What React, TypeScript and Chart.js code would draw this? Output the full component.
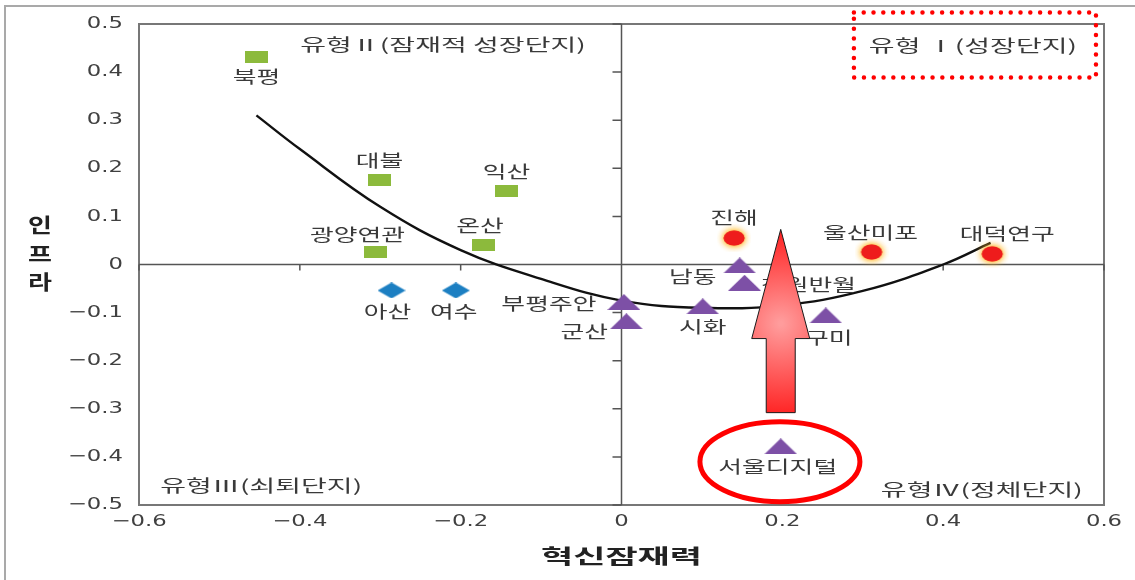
import React, { useEffect, useRef } from 'react';
import { Chart, registerables } from 'chart.js';

Chart.register(...registerables);

// ---- data ----
const growthNames = ['진해', '울산미포', '대덕연구'];
const growthX = [0.14, 0.311, 0.461];
const growthY = [0.055, 0.026, 0.022];

const potentialNames = ['북평', '대불', '익산', '온산', '광양연관'];
const potentialX = [-0.454, -0.301, -0.143, -0.171, -0.306];
const potentialY = [0.432, 0.175, 0.152, 0.04, 0.027];

const declineNames = ['아산', '여수'];
const declineX = [-0.286, -0.206];
const declineY = [-0.054, -0.054];

const stagnantNames = ['부평주안', '군산', '남동', '창원반월', '시화', '구미', '서울디지털'];
const stagnantX = [0.003, 0.006, 0.147, 0.153, 0.101, 0.254, 0.198];
const stagnantY = [-0.078, -0.118, -0.002, -0.038, -0.087, -0.106, -0.378];

const trendX = [-0.454, -0.4, -0.3, -0.2, -0.1, 0, 0.1, 0.2, 0.3, 0.4, 0.459];
const trendY = [0.31, 0.24, 0.12, 0.03, -0.03, -0.075, -0.09, -0.085, -0.055, 0.0, 0.045];

const xTickValues = [-0.6, -0.4, -0.2, 0, 0.2, 0.4, 0.6];
const yTickValues = [0.5, 0.4, 0.3, 0.2, 0.1, 0, -0.1, -0.2, -0.3, -0.4, -0.5];
const xTitle = '혁신잠재력';
const yTitle = ['인', '프', '라'];

const quadrantTexts = ['유형Ⅱ(잠재적 성장단지)', '유형 Ⅰ(성장단지)', '유형Ⅲ(쇠퇴단지)', '유형Ⅳ(정체단지)'];
const quadrantX = [-0.222, 0.437, -0.448, 0.448];
const quadrantY = [0.457, 0.455, -0.459, -0.468];

// ---- annotation placement (styles) ----
const labelOffsets: Record<string, [number, number]> = {
  '북평': [0, 20], '대불': [0, -20], '익산': [0, -20], '온산': [-4, -20], '광양연관': [-18, -17],
  '아산': [-4, 21], '여수': [-2, 21],
  '진해': [0, -20], '울산미포': [-1, -19], '대덕연구': [15, -20],
  '부평주안': [-75, 2], '군산': [-42, 10], '남동': [-47, 11], '창원반월': [64, 2],
  '시화': [0, 20], '구미': [3, 22], '서울디지털': [-3, 20],
};
const boxRange = { x0: 0.289, x1: 0.59, y0: 0.524, y1: 0.389 };
const arrowPos = { x: 0.198, tip: 0.073, head: -0.154, base: -0.308 };
const ellipsePos = { x: 0.197, y: -0.41 };

const KR = '"Noto Sans CJK KR", "Noto Sans", sans-serif';

function fmt(v: number) {
  if (Math.abs(v) < 1e-9) return '0';
  return (v < 0 ? '\u2212' : '') + Math.abs(v).toFixed(1);
}

function drawText(ctx: CanvasRenderingContext2D, text: string, x: number, y: number, font: string, color: string, sx: number, align: CanvasTextAlign = 'center') {
  ctx.save();
  ctx.font = font;
  ctx.fillStyle = color;
  ctx.textAlign = align;
  ctx.textBaseline = 'middle';
  ctx.translate(x, y);
  ctx.scale(sx, 1);
  ctx.fillText(text, 0, 0);
  ctx.restore();
}

function makeMarker(kind: string): HTMLCanvasElement {
  const c = document.createElement('canvas');
  const ctx = c.getContext('2d')!;
  if (kind === 'rect') {
    c.width = 23; c.height = 12;
    ctx.fillStyle = '#8cba3c';
    ctx.fillRect(0, 0, 23, 12);
  } else if (kind === 'diamond') {
    c.width = 28; c.height = 16;
    ctx.fillStyle = '#1c7fc2';
    ctx.beginPath();
    ctx.moveTo(14, 0); ctx.lineTo(28, 8); ctx.lineTo(14, 16); ctx.lineTo(0, 8);
    ctx.closePath(); ctx.fill();
  } else if (kind === 'circle') {
    c.width = 34; c.height = 28;
    ctx.shadowColor = 'rgba(255,185,40,0.95)';
    ctx.shadowBlur = 7;
    ctx.fillStyle = '#ee1c1c';
    ctx.beginPath();
    ctx.ellipse(17, 14, 10.5, 7.5, 0, 0, Math.PI * 2);
    ctx.fill();
    ctx.fill();
  } else {
    c.width = 33; c.height = 16;
    ctx.fillStyle = '#7d50a6';
    ctx.beginPath();
    ctx.moveTo(16.5, 0); ctx.lineTo(33, 16); ctx.lineTo(0, 16);
    ctx.closePath(); ctx.fill();
  }
  return c;
}

const customPlugin = {
  id: 'customDraw',
  beforeDraw(chart: any) {
    const ctx: CanvasRenderingContext2D = chart.ctx;
    ctx.save();
    ctx.fillStyle = '#ffffff';
    ctx.fillRect(0, 0, chart.width, chart.height);
    ctx.strokeStyle = '#a9a9a9';
    ctx.lineWidth = 2;
    ctx.beginPath();
    ctx.moveTo(5, chart.height);
    ctx.lineTo(5, 6);
    ctx.lineTo(chart.width, 6);
    ctx.stroke();
    ctx.restore();
  },
  beforeDatasetsDraw(chart: any) {
    const ctx: CanvasRenderingContext2D = chart.ctx;
    const a = chart.chartArea;
    const xs = chart.scales.x;
    const ys = chart.scales.y;
    ctx.save();
    ctx.strokeStyle = '#777777';
    ctx.lineWidth = 2;
    ctx.strokeRect(a.left, a.top, a.right - a.left, a.bottom - a.top);
    const x0 = xs.getPixelForValue(0);
    const y0 = ys.getPixelForValue(0);
    ctx.strokeStyle = '#555555';
    ctx.lineWidth = 1.5;
    ctx.beginPath();
    ctx.moveTo(x0, a.top); ctx.lineTo(x0, a.bottom);
    ctx.moveTo(a.left, y0); ctx.lineTo(a.right, y0);
    for (const v of yTickValues) {
      const py = ys.getPixelForValue(v);
      ctx.moveTo(x0 - 9, py); ctx.lineTo(x0, py);
    }
    for (const v of xTickValues) {
      const px = xs.getPixelForValue(v);
      ctx.moveTo(px, y0); ctx.lineTo(px, y0 + 6);
    }
    ctx.stroke();
    ctx.restore();
    const tickFont = '16px "DejaVu Sans", sans-serif';
    for (const t of ys.ticks) {
      drawText(ctx, fmt(t.value), a.left - 16, ys.getPixelForValue(t.value), tickFont, '#404040', 1.42, 'right');
    }
    for (const t of xs.ticks) {
      drawText(ctx, fmt(t.value), xs.getPixelForValue(t.value), a.bottom + 17, tickFont, '#404040', 1.42, 'center');
    }
    drawText(ctx, xTitle, (a.left + a.right) / 2, a.bottom + 51, `bold 20px ${KR}`, '#222222', 1.75);
    yTitle.forEach((ch, i) => {
      drawText(ctx, ch, 40, (a.top + a.bottom) / 2 - 39 + i * 28.5, `bold 20px ${KR}`, '#222222', 1.3);
    });
  },
  afterDatasetsDraw(chart: any) {
    const ctx: CanvasRenderingContext2D = chart.ctx;
    const xs = chart.scales.x;
    const ys = chart.scales.y;
    chart.data.datasets.forEach((ds: any, di: number) => {
      if (!ds.names) return;
      const meta = chart.getDatasetMeta(di);
      meta.data.forEach((el: any, i: number) => {
        const name = ds.names[i];
        const off = labelOffsets[name] || [0, 20];
        drawText(ctx, name, el.x + off[0], el.y + off[1], `17px ${KR}`, '#3a3a3a', 1.52);
      });
    });
    quadrantTexts.forEach((t, i) => {
      drawText(ctx, t, xs.getPixelForValue(quadrantX[i]), ys.getPixelForValue(quadrantY[i]), `16.5px ${KR}`, '#3a3a3a', 1.7);
    });
    ctx.save();
    const bx0 = xs.getPixelForValue(boxRange.x0);
    const bx1 = xs.getPixelForValue(boxRange.x1);
    const by0 = ys.getPixelForValue(boxRange.y0);
    const by1 = ys.getPixelForValue(boxRange.y1);
    ctx.strokeStyle = '#ff0000';
    ctx.lineWidth = 4.5;
    ctx.lineCap = 'round';
    ctx.setLineDash([0, 9.8]);
    ctx.strokeRect(bx0, by0, bx1 - bx0, by1 - by0);
    ctx.setLineDash([]);
    const ax = xs.getPixelForValue(arrowPos.x);
    const tipY = ys.getPixelForValue(arrowPos.tip);
    const headY = ys.getPixelForValue(arrowPos.head);
    const baseY = ys.getPixelForValue(arrowPos.base);
    const hw = 29, sw = 14.5;
    ctx.beginPath();
    ctx.moveTo(ax, tipY);
    ctx.lineTo(ax + hw, headY);
    ctx.lineTo(ax + sw, headY);
    ctx.lineTo(ax + sw, baseY);
    ctx.lineTo(ax - sw, baseY);
    ctx.lineTo(ax - sw, headY);
    ctx.lineTo(ax - hw, headY);
    ctx.closePath();
    const gy = headY - 15;
    const g = ctx.createRadialGradient(ax, gy, 2, ax, gy, 110);
    g.addColorStop(0, '#ff9c9c');
    g.addColorStop(1, '#ff0a0a');
    ctx.fillStyle = g;
    ctx.fill();
    ctx.strokeStyle = '#1a1a1a';
    ctx.lineWidth = 1;
    ctx.lineCap = 'butt';
    ctx.stroke();
    ctx.beginPath();
    ctx.ellipse(xs.getPixelForValue(ellipsePos.x), ys.getPixelForValue(ellipsePos.y), 80, 40, 0, 0, Math.PI * 2);
    ctx.strokeStyle = '#ff0000';
    ctx.lineWidth = 5;
    ctx.stroke();
    ctx.restore();
  },
};

function pts(xs: number[], ys: number[]) {
  return xs.map((x, i) => ({ x, y: ys[i] }));
}

export default function App() {
  const ref = useRef<HTMLCanvasElement>(null);
  useEffect(() => {
    const canvas = ref.current;
    if (!canvas) return;
    const chart = new Chart(canvas, {
      type: 'scatter',
      data: {
        datasets: [
          { label: '유형Ⅰ', names: growthNames, data: pts(growthX, growthY), pointStyle: makeMarker('circle'), pointRadius: 8 } as any,
          { label: '유형Ⅱ', names: potentialNames, data: pts(potentialX, potentialY), pointStyle: makeMarker('rect'), pointRadius: 8 } as any,
          { label: '유형Ⅲ', names: declineNames, data: pts(declineX, declineY), pointStyle: makeMarker('diamond'), pointRadius: 8 } as any,
          { label: '유형Ⅳ', names: stagnantNames, data: pts(stagnantX, stagnantY), pointStyle: makeMarker('triangle'), pointRadius: 8 } as any,
          {
            label: '추세선', data: pts(trendX, trendY), showLine: true, pointRadius: 0,
            borderColor: '#111111', borderWidth: 2.4, tension: 0.4, fill: false, order: 10,
          } as any,
        ],
      },
      options: {
        responsive: false,
        animation: false,
        events: [],
        layout: { padding: { top: 24, right: 31, left: 0, bottom: 0 } },
        plugins: { legend: { display: false }, tooltip: { enabled: false } },
        scales: {
          x: {
            type: 'linear', min: -0.6, max: 0.6,
            afterBuildTicks: (s: any) => { s.ticks = xTickValues.map((v) => ({ value: v })); },
            afterFit: (s: any) => { s.height = 75; },
            ticks: { display: false }, grid: { display: false }, border: { display: false },
          },
          y: {
            type: 'linear', min: -0.5, max: 0.5,
            afterBuildTicks: (s: any) => { s.ticks = yTickValues.map((v) => ({ value: v })); },
            afterFit: (s: any) => { s.width = 139; },
            ticks: { display: false }, grid: { display: false }, border: { display: false },
          },
        },
      },
      plugins: [customPlugin],
    } as any);
    return () => chart.destroy();
  }, []);
  return (
    <div style={{ position: 'absolute', left: 0, top: 0, width: 1135, height: 580, background: '#fff', overflow: 'hidden' }}>
      <canvas ref={ref} width={1135} height={580} style={{ display: 'block', width: 1135, height: 580 }} />
    </div>
  );
}
